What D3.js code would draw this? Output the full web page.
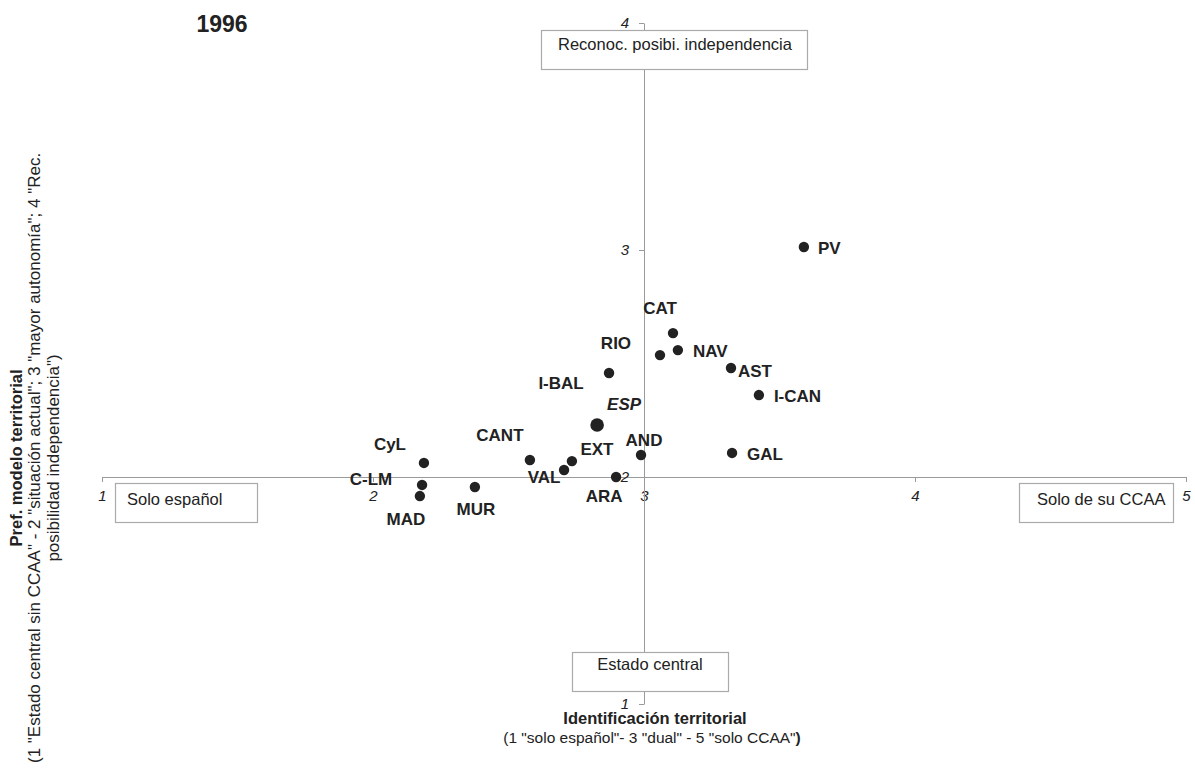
<!DOCTYPE html>
<html><head><meta charset="utf-8">
<script src="https://cdn.jsdelivr.net/npm/d3@7"></script>
<style>
body{margin:0;background:#fff;}
text{font-family:"Liberation Sans",Arial,sans-serif;}
</style></head>
<body><svg id="c" width="1195" height="769"></svg>
<script>
// ---- data ----
const regions = ["PV","CAT","RIO","NAV","AST","I-CAN","I-BAL","ESP","AND","GAL","EXT","CANT","VAL","ARA","CyL","C-LM","MAD","MUR"];
const identificacion = [3.590,3.107,3.059,3.125,3.321,3.424,2.871,2.827,2.989,3.325,2.734,2.579,2.705,2.897,2.188,2.181,2.173,2.376];
const modelo = [3.013,2.634,2.537,2.559,2.480,2.361,2.458,2.229,2.097,2.106,2.070,2.075,2.031,2.000,2.062,1.965,1.916,1.956];
const xTicks = [1,2,3,4,5];
const yTicks = [1,2,3,4];
const title = "1996";

// ---- label layout (pixel offsets from point) ----
const labelLayout = {
  "PV":[14,1,"start"],"CAT":[-13,-25,"middle"],"RIO":[-44,-12,"middle"],"NAV":[15,1,"start"],
  "AST":[7,3,"start"],"I-CAN":[15,1,"start"],"I-BAL":[-48,10,"middle"],"ESP":[27,-21,"middle"],
  "AND":[3,-15,"middle"],"GAL":[15,1,"start"],"EXT":[25,-12,"middle"],"CANT":[-30,-25,"middle"],
  "VAL":[-20,7,"middle"],"ARA":[-12,19,"middle"],"CyL":[-34,-19,"middle"],"C-LM":[-51,-6,"middle"],
  "MAD":[-14,23,"middle"],"MUR":[1,22,"middle"]
};

const svg = d3.select("#c");
const x = d3.scaleLinear().domain([1,5]).range([102,1186]);
const y = d3.scaleLinear().domain([1,4]).range([704,23]);
const axisCol = "#9a9a9a";
const ink = "#222";

// axes
const xAxis = d3.axisBottom(x).tickValues(xTicks).tickSize(5).tickSizeOuter(0).tickFormat(d3.format("d"));
const gx = svg.append("g").attr("transform",`translate(0,${y(2)})`).call(xAxis);
gx.select(".domain").attr("stroke",axisCol);
gx.selectAll(".tick line").attr("stroke",axisCol);
gx.selectAll(".tick text").attr("fill",ink).attr("font-size",15).attr("font-style","italic")
  .attr("font-family","Liberation Sans, Arial, sans-serif").attr("dy","1.05em");

const yAxis = d3.axisLeft(y).tickValues(yTicks).tickSize(5).tickSizeOuter(0).tickFormat(d3.format("d"));
const gy = svg.append("g").attr("transform",`translate(${x(3)},0)`).call(yAxis);
gy.select(".domain").attr("stroke",axisCol);
gy.selectAll(".tick line").attr("stroke",axisCol);
gy.selectAll(".tick text").attr("fill",ink).attr("font-size",15).attr("font-style","italic")
  .attr("font-family","Liberation Sans, Arial, sans-serif").attr("x",-15).attr("dy","0.3em");

// annotation boxes
const boxes = [
  {t:"Reconoc. posibi. independencia", x0:541,y0:30,x1:807,y1:69, tx:675, ty:50, a:"middle"},
  {t:"Estado central", x0:572,y0:652,x1:728,y1:691, tx:650, ty:670, a:"middle"},
  {t:"Solo español", x0:115,y0:483,x1:257,y1:522, tx:127, ty:505, a:"start"},
  {t:"Solo de su CCAA", x0:1019,y0:483,x1:1173,y1:522, tx:1037, ty:505, a:"start"}
];
const bg = svg.append("g");
bg.selectAll("rect").data(boxes).join("rect")
  .attr("x",d=>d.x0+0.5).attr("y",d=>d.y0+0.5).attr("width",d=>d.x1-d.x0).attr("height",d=>d.y1-d.y0)
  .attr("fill","#fff").attr("stroke","#aaa").attr("stroke-width",1.2);
bg.selectAll("text").data(boxes).join("text")
  .attr("x",d=>d.tx).attr("y",d=>d.ty).attr("text-anchor",d=>d.a)
  .attr("font-size",16.5).attr("fill",ink).text(d=>d.t);

// points
const pts = regions.map((r,i)=>({r, xv:identificacion[i], yv:modelo[i]}));
svg.append("g").selectAll("circle").data(pts).join("circle")
  .attr("cx",d=>x(d.xv)).attr("cy",d=>y(d.yv))
  .attr("r",d=>d.r==="ESP"?6.8:5.2).attr("fill",ink);

svg.append("g").selectAll("text").data(pts).join("text")
  .attr("x",d=>x(d.xv)+labelLayout[d.r][0])
  .attr("y",d=>y(d.yv)+labelLayout[d.r][1]+6)
  .attr("text-anchor",d=>labelLayout[d.r][2])
  .attr("font-size",17).attr("font-weight","bold")
  .attr("font-style",d=>d.r==="ESP"?"italic":"normal")
  .attr("fill",ink).text(d=>d.r);

// title
svg.append("text").attr("x",222).attr("y",32).attr("text-anchor","middle")
  .attr("font-size",23).attr("font-weight","bold").attr("fill",ink).text(title);

// x axis title
svg.append("text").attr("x",655).attr("y",724).attr("text-anchor","middle")
  .attr("font-size",16.5).attr("font-weight","bold").attr("fill",ink).text("Identificación territorial");
const xt2 = svg.append("text").attr("x",652).attr("y",743).attr("text-anchor","middle")
  .attr("font-size",15.5).attr("fill",ink);
xt2.append("tspan").text('(1 "solo español"- 3 "dual" - 5 "solo CCAA"');
xt2.append("tspan").attr("font-weight","bold").text(")");

// y axis title
const yg = svg.append("g");
const l2 = yg.append("text").attr("font-size",17).attr("fill",ink)
  .attr("text-anchor","middle")
  .text('(1 "Estado central sin CCAA" - 2 "situación actual"; 3 "mayor autonomía"; 4 "Rec.');
const len2 = l2.node().getComputedTextLength();
const cy = 763 - len2/2;
l2.attr("transform",`translate(40,${cy}) rotate(-90)`);
yg.append("text").attr("font-size",16.5).attr("font-weight","bold").attr("fill",ink)
  .attr("text-anchor","middle").attr("transform",`translate(22,${cy}) rotate(-90)`)
  .text("Pref. modelo territorial");
yg.append("text").attr("font-size",17).attr("fill",ink)
  .attr("text-anchor","middle").attr("transform",`translate(59,${cy}) rotate(-90)`)
  .text('posibilidad independencia")');
</script></body></html>
